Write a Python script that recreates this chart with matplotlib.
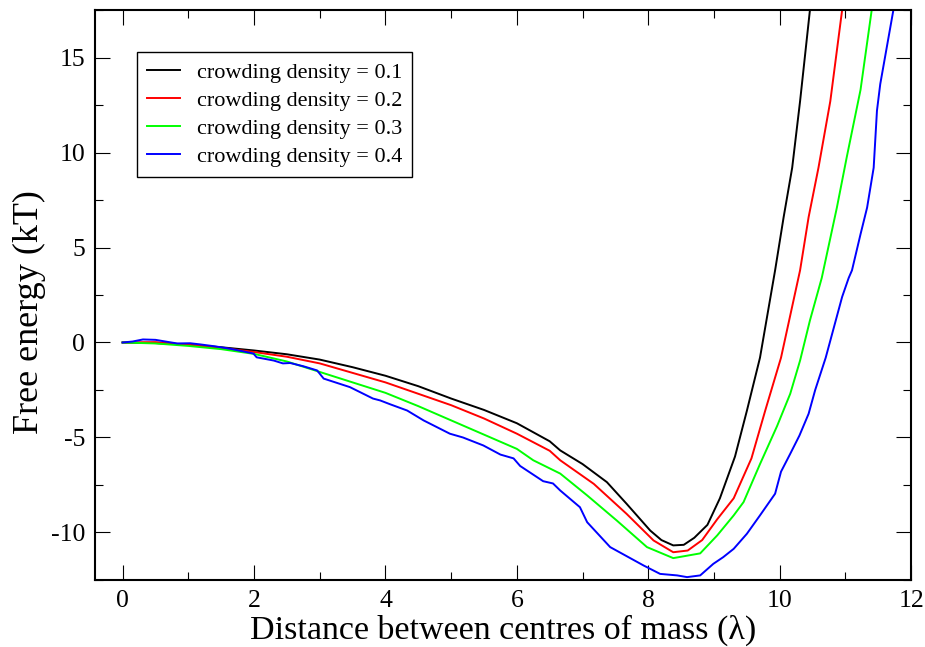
"""Free energy vs centre-of-mass distance for four crowding densities."""

import matplotlib

matplotlib.use("Agg")
import matplotlib.pyplot as plt
from matplotlib.ticker import MultipleLocator

plt.rcParams["font.family"] = ["Liberation Serif", "DejaVu Serif"]
plt.rcParams["axes.unicode_minus"] = False

# values
x_01 = [0, 0.5, 1.0, 1.5, 2.0, 2.5, 3.0, 3.5, 4.0, 4.5, 5.0, 5.5, 6.0, 6.5,
        6.66, 7.0, 7.37, 7.67, 8.03, 8.2, 8.38, 8.54, 8.7, 8.9, 9.09, 9.32,
        9.5, 9.7, 9.93, 10.06, 10.19, 10.31, 10.46, 10.52]
y_01 = [0, -0.03, -0.12, -0.25, -0.42, -0.62, -0.9, -1.3, -1.75, -2.3,
        -2.95, -3.55, -4.25, -5.2, -5.68, -6.4, -7.35, -8.49, -9.9, -10.4,
        -10.68, -10.65, -10.28, -9.6, -8.2, -6.0, -3.6, -0.8, 3.8, 6.6,
        9.2, 12.7, 17.5, 19.5]

x_02 = [0, 0.5, 1, 1.5, 2, 2.5, 3, 3.5, 4, 4.5, 5, 5.5, 6, 6.5, 6.66, 7.17,
        7.67, 8.08, 8.38, 8.6, 8.82, 9.05, 9.3, 9.57, 9.78, 10.02, 10.31,
        10.44, 10.59, 10.77, 10.95, 11.02]
y_02 = [0, 0.02, -0.12, -0.28, -0.5, -0.75, -1.1, -1.6, -2.1, -2.7, -3.3,
        -4.0, -4.8, -5.7, -6.2, -7.44, -9.02, -10.42, -11.04, -10.95, -10.4,
        -9.3, -8.2, -6.1, -3.58, -0.8, 3.8, 6.6, 9.2, 12.7, 17.5, 19.5]

x_03 = [0, 0.5, 1, 1.5, 2, 2.5, 3, 3.5, 4, 4.5, 5, 5.5, 6, 6.25, 6.66, 7.07,
        7.52, 7.98, 8.38, 8.79, 9.05, 9.3, 9.45, 9.7, 9.96, 10.16, 10.31,
        10.46, 10.64, 10.87, 11.02, 11.23, 11.4, 11.5]
y_03 = [0, -0.05, -0.18, -0.35, -0.6, -1.0, -1.55, -2.1, -2.65, -3.35, -4.1,
        -4.85, -5.6, -6.2, -6.9, -8.05, -9.37, -10.77, -11.35, -11.1, -10.15,
        -9.1, -8.4, -6.4, -4.4, -2.7, -0.95, 1.16, 3.4, 7.1, 9.75, 13.3, 17.5,
        19.5]

x_04 = [0, 0.15, 0.31, 0.5, 0.62, 0.83, 1.03, 1.18, 1.4, 1.64, 1.99, 2.04,
        2.3, 2.44, 2.55, 2.75, 2.96, 3.06, 3.46, 3.81, 3.92, 4.07, 4.33, 4.58,
        4.98, 5.18, 5.49, 5.75, 5.95, 6.05, 6.4, 6.55, 6.66, 6.96, 7.07, 7.42,
        7.93, 8.18, 8.44, 8.59, 8.79, 8.99, 9.14, 9.3, 9.5, 9.7, 9.93, 10.02,
        10.16, 10.3, 10.44, 10.54, 10.7, 10.95, 11.05, 11.1, 11.23, 11.33,
        11.43, 11.48, 11.53, 11.73, 11.8]
y_04 = [0, 0.05, 0.16, 0.14, 0.07, -0.05, -0.04, -0.1, -0.2, -0.33, -0.58,
        -0.78, -0.95, -1.1, -1.08, -1.25, -1.47, -1.9, -2.35, -2.95, -3.05,
        -3.25, -3.58, -4.1, -4.8, -5.0, -5.42, -5.9, -6.1, -6.5, -7.3, -7.42,
        -7.79, -8.67, -9.46, -10.77, -11.74, -12.18, -12.26, -12.35, -12.26,
        -11.65, -11.3, -10.86, -10.07, -9.1, -7.96, -6.8, -5.86, -4.9, -3.75,
        -2.5, -0.8, 2.4, 3.4, 3.8, 5.7, 7.1, 9.2, 12.2, 13.6, 17.5, 19.5]

series = [
    (x_01, y_01, "black", "crowding density = 0.1"),
    (x_02, y_02, "red", "crowding density = 0.2"),
    (x_03, y_03, "#00ff00", "crowding density = 0.3"),
    (x_04, y_04, "blue", "crowding density = 0.4"),
]

fig = plt.figure(figsize=(9.25, 6.47), dpi=100)
ax = fig.add_axes([0.1027, 0.1036, 0.8823, 0.8809])

for xs, ys, color, label in series:
    ax.plot(xs, ys, color=color, linewidth=1.4, label=label)

ax.set_xlim(-0.42, 12)
ax.set_ylim(-12.5, 17.5)
ax.xaxis.set_major_locator(MultipleLocator(2))
ax.xaxis.set_minor_locator(MultipleLocator(1))
ax.yaxis.set_major_locator(MultipleLocator(5))
ax.yaxis.set_minor_locator(MultipleLocator(2.5))
ax.tick_params(which="both", direction="in", top=True, right=True,
               width=0.8, labelsize=18.5)
ax.tick_params(which="major", length=11, pad=7)
ax.tick_params(which="minor", length=5.5)
for spine in ax.spines.values():
    spine.set_linewidth(1.5)

ax.set_xlabel("Distance between centres of mass (λ)", fontsize=24.5, labelpad=2)
ax.set_ylabel("Free energy (kT)", fontsize=26, va="center")
ax.yaxis.set_label_coords(-0.08, 0.47)

legend = ax.legend(loc="upper left", bbox_to_anchor=(0.0515, 0.926),
                   borderaxespad=0, fontsize=16, fancybox=False,
                   edgecolor="black", framealpha=1, handlelength=1.5,
                   handletextpad=0.75, borderpad=0.45, labelspacing=0.34)
legend.get_frame().set_linewidth(1.0)

fig.savefig("out.png", dpi=100)
